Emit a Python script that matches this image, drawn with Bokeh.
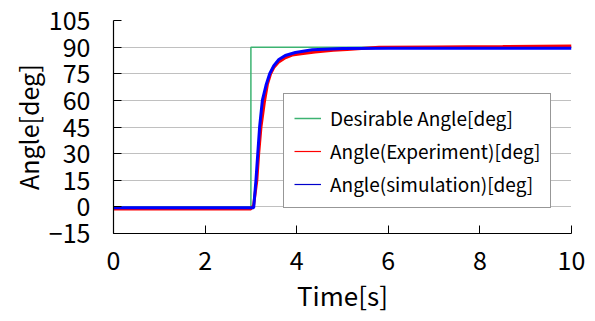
import math
from bokeh.plotting import figure
from bokeh.models import Range1d, FixedTicker, Legend, LegendItem
from bokeh.embed import file_html
from bokeh.resources import INLINE

# Data
t_des = [0, 3.0, 3.0, 10]
des = [0, 0, 90, 90]

t_exp = [0, 3.0, 3.06, 3.13, 3.17, 3.22, 3.30, 3.36, 3.43, 3.5, 3.6, 3.75, 3.9, 4.1, 4.4, 4.8, 5.1, 5.8, 7.0, 8.5, 10]
exp = [-1.2, -1.2, 1, 15, 30, 45, 60, 69, 75, 78.5, 81.5, 84, 85.5, 86.3, 87.3, 88.2, 88.7, 89.9, 90.1, 90.3, 90.6]

t_sim = [0, 3.0, 3.06, 3.11, 3.15, 3.19, 3.25, 3.33, 3.41, 3.5, 3.61, 3.75, 3.97, 4.34, 5.0, 6, 8, 10]
sim = [-0.5, -0.5, -0.5, 15, 30, 45, 60, 68.5, 75, 79.5, 83, 85.3, 87, 88.5, 89.2, 89.4, 89.4, 89.4]

x_ticks = [0, 2, 4, 6, 8, 10]
y_ticks = [-15, 0, 15, 30, 45, 60, 75, 90, 105]

labels = ["Desirable Angle[deg]", "Angle(Experiment)[deg]", "Angle(simulation)[deg]"]

FONT = "Noto Sans CJK JP"

p = figure(width=590, height=315, output_backend="svg", toolbar_location=None,
           x_range=Range1d(0, 10), y_range=Range1d(-15, 105),
           min_border_left=113, min_border_right=19, min_border_top=20, min_border_bottom=79)
p.background_fill_color = "white"
p.border_fill_color = "white"
p.outline_line_color = None

for ax in (p.xaxis[0], p.yaxis[0]):
    ax.axis_line_color = "black"
    ax.axis_line_width = 1.2
    ax.major_tick_in = 8
    ax.major_tick_out = 0
    ax.minor_tick_line_color = None
    ax.major_tick_line_color = "black"
    ax.major_label_text_font = FONT
    ax.major_label_text_font_size = "25px"
    ax.major_label_text_color = "black"
    ax.axis_label_text_font = FONT
    ax.axis_label_text_font_style = "normal"
    ax.axis_label_text_color = "black"

p.xaxis.axis_label_text_font_size = "26px"
p.yaxis.axis_label_text_font_size = "25px"
p.xaxis.ticker = FixedTicker(ticks=x_ticks)
p.yaxis.ticker = FixedTicker(ticks=y_ticks)
p.xaxis.axis_label = "Time[s]"
p.yaxis.axis_label = "Angle[deg]"
p.xaxis.major_label_standoff = 17
p.xaxis.axis_label_standoff = 3
p.yaxis.major_label_standoff = 23
p.yaxis.axis_label_standoff = 0

p.xgrid.ticker = FixedTicker(ticks=[10])
p.xgrid.grid_line_color = "#808080"
p.xgrid.grid_line_width = 1.5
p.ygrid.ticker = FixedTicker(ticks=y_ticks[1:])
p.ygrid.grid_line_color = "#808080"
p.ygrid.grid_line_dash = "1 1"
p.ygrid.grid_line_width = 1

p.line(t_des, des, line_color="#3CB371", line_width=1.5)
p.line(t_exp, exp, line_color="#FF0000", line_width=3)
p.line(t_sim, sim, line_color="#0000FF", line_width=3)

nan = [math.nan]
r1 = p.line(nan, nan, line_color="#3CB371", line_width=1.5)
r2 = p.line(nan, nan, line_color="#FF0000", line_width=1.2)
r3 = p.line(nan, nan, line_color="#0000CC", line_width=1.2)

legend = Legend(items=[LegendItem(label=labels[0], renderers=[r1]),
                       LegendItem(label=labels[1], renderers=[r2]),
                       LegendItem(label=labels[2], renderers=[r3])],
                location=(170, 25))
legend.label_text_font = FONT
legend.label_text_font_size = "19px"
legend.label_text_color = "black"
legend.glyph_width = 27
legend.glyph_height = 18
legend.label_height = 18
legend.label_standoff = 9
legend.spacing = 6
legend.margin = 0
legend.padding = 10
legend.border_line_color = "#303030"
legend.border_line_width = 1.5
legend.background_fill_alpha = 1
p.add_layout(legend, "center")

open("out.html", "w").write(file_html(p, INLINE))
